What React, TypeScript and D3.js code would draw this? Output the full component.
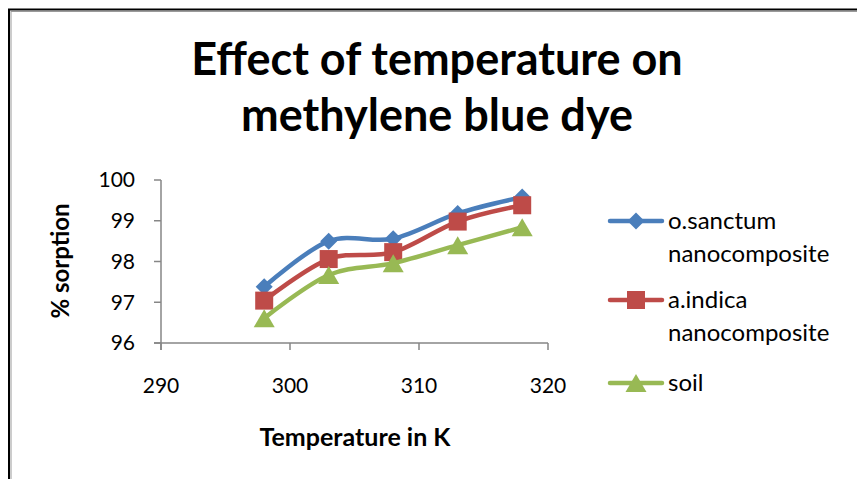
import React from "react";
import * as d3 from "d3";

// Temperatures (K) and % sorption for each sorbent
const temperatures = [298, 303, 308, 313, 318];
const oSanctum = [97.38, 98.5, 98.56, 99.18, 99.58];
const aIndica = [97.04, 98.06, 98.23, 98.98, 99.38];
const soil = [96.61, 97.67, 97.96, 98.4, 98.84];

const xTicks = [290, 300, 310, 320];
const yTicks = [96, 97, 98, 99, 100];

const seriesNames = [
  ["o.sanctum", "nanocomposite"],
  ["a.indica", "nanocomposite"],
  ["soil"],
];
const seriesColors = ["#4A7EBB", "#BE4B48", "#98B954"];
const seriesValues = [oSanctum, aIndica, soil];
const markerKinds = ["diamond", "square", "triangle"];

const W = 857;
const H = 479;
const FONT = "Lato, 'Open Sans', sans-serif";

function Marker({ kind, x, y, color }: { kind: string; x: number; y: number; color: string }) {
  if (kind === "diamond") {
    const r = 8.5;
    return <path d={`M${x},${y - r}L${x + r},${y}L${x},${y + r}L${x - r},${y}Z`} fill={color} />;
  }
  if (kind === "square") {
    const s = 18;
    return <rect x={x - s / 2} y={y - s / 2} width={s} height={s} fill={color} />;
  }
  const w = 21;
  const h = 18;
  return <path d={`M${x},${y - h / 2}L${x + w / 2},${y + h / 2}L${x - w / 2},${y + h / 2}Z`} fill={color} />;
}

export default function App() {
  const x = d3.scaleLinear().domain([290, 320]).range([161, 548]);
  const y = d3.scaleLinear().domain([96, 100]).range([343, 180]);
  const line = d3
    .line<[number, number]>()
    .x((d) => x(d[0]))
    .y((d) => y(d[1]))
    .curve(d3.curveCardinal.tension(0));

  const axisColor = "#868686";
  const legendY = [221, 300, 383];

  return (
    <svg
      width={W}
      height={H}
      style={{ position: "absolute", left: 0, top: 0, background: "#fff" }}
      fontFamily={FONT}
    >
      <rect x={0} y={0} width={W} height={H} fill="#fff" />
      {/* frame */}
      <rect x={9} y={9.5} width={W + 20} height={H + 20} fill="none" stroke="#000" strokeWidth={2} />
      <rect x={11} y={11.5} width={W + 20} height={H + 20} fill="none" stroke="#9a9a9a" strokeWidth={1} />

      {/* title */}
      <text x={437} y={75} textAnchor="middle" fontSize={45} fontWeight={700} fill="#000">
        Effect of temperature on
      </text>
      <text x={437} y={131} textAnchor="middle" fontSize={45} fontWeight={700} fill="#000">
        methylene blue dye
      </text>

      {/* y axis */}
      <line x1={x(290)} x2={x(290)} y1={y(100)} y2={y(96) + 7} stroke={axisColor} strokeWidth={1.5} />
      {yTicks.map((t) => (
        <g key={`y${t}`}>
          <line x1={x(290) - 7} x2={x(290)} y1={y(t)} y2={y(t)} stroke={axisColor} strokeWidth={1.5} />
          <text x={135} y={y(t)} dy="0.35em" textAnchor="end" fontSize={21} fill="#000">
            {t}
          </text>
        </g>
      ))}

      {/* x axis */}
      <line x1={x(290) - 7} x2={x(320)} y1={y(96)} y2={y(96)} stroke={axisColor} strokeWidth={1.5} />
      {xTicks.map((t) => (
        <g key={`x${t}`}>
          <line x1={x(t)} x2={x(t)} y1={y(96)} y2={y(96) + 7} stroke={axisColor} strokeWidth={1.5} />
          <text x={x(t)} y={386} dy="0.35em" textAnchor="middle" fontSize={21} fill="#000">
            {t}
          </text>
        </g>
      ))}

      <text x={355} y={446} textAnchor="middle" fontSize={25} fontWeight={700} fill="#000">
        Temperature in K
      </text>
      <text
        transform={`translate(69,261) rotate(-90)`}
        textAnchor="middle"
        fontSize={24}
        fontWeight={700}
        fill="#000"
      >
        % sorption
      </text>

      {/* series */}
      {seriesValues.map((vals, i) => {
        const pts = temperatures.map((t, j) => [t, vals[j]] as [number, number]);
        return (
          <g key={`s${i}`}>
            <path d={line(pts) || ""} fill="none" stroke={seriesColors[i]} strokeWidth={4.5} strokeLinejoin="round" strokeLinecap="round" />
            {pts.map((p, j) => (
              <Marker key={j} kind={markerKinds[i]} x={x(p[0])} y={y(p[1])} color={seriesColors[i]} />
            ))}
          </g>
        );
      })}

      {/* legend */}
      {seriesNames.map((names, i) => (
        <g key={`l${i}`}>
          <line x1={610} x2={662} y1={legendY[i]} y2={legendY[i]} stroke={seriesColors[i]} strokeWidth={4.5} strokeLinecap="round" />
          <Marker kind={markerKinds[i]} x={636} y={legendY[i]} color={seriesColors[i]} />
          {names.map((n, k) => (
            <text key={k} x={668} y={legendY[i] + 8 + k * 33} fontSize={24} fill="#000">
              {n}
            </text>
          ))}
        </g>
      ))}
    </svg>
  );
}
